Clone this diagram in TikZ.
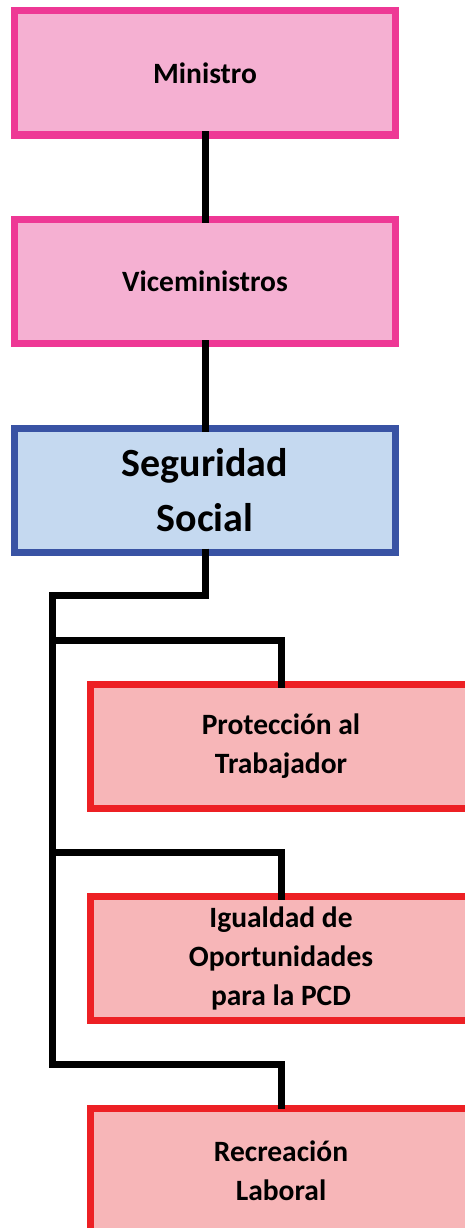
\documentclass[tikz,border=0pt]{standalone}
\usepackage{fontspec}
\setmainfont{Carlito}
\usetikzlibrary{positioning, calc}
\definecolor{orgpink}{RGB}{238,56,149}
\definecolor{orgpinkfill}{RGB}{245,176,210}
\definecolor{orgblue}{RGB}{57,83,164}
\definecolor{orgbluefill}{RGB}{197,217,240}
\definecolor{orgred}{RGB}{237,32,36}
\definecolor{orgredfill}{RGB}{247,182,184}

\tikzset{
    unitbox/.style={rectangle, line width=7pt, minimum width=381pt, minimum height=124pt,
        outer sep=0pt, inner sep=0pt, align=center, font=\bfseries\fontsize{29.5}{39}\selectfont},
    pinkbox/.style={unitbox, draw=orgpink, fill=orgpinkfill},
    bluebox/.style={unitbox, draw=orgblue, fill=orgbluefill, font=\bfseries\fontsize{40}{55}\selectfont},
    redbox/.style={unitbox, draw=orgred, fill=orgredfill},
    conn/.style={line width=7pt, black, shorten <=-3.5pt, shorten >=-3.5pt}
}

\begin{document}
\begin{tikzpicture}[x=1pt, y=-1pt]
    \useasboundingbox (0,0) rectangle (464,1228);

    % Upper chain
    \node[pinkbox] (min) at (205,73) {Ministro};
    \node[pinkbox, below=84.5pt of min] (vice) {Viceministros};
    \node[bluebox, below=84.5pt of vice] (seg) {Seguridad\\Social};

    % Dependencies
    \node[redbox] (prot) at (281,746) {Protección al\\Trabajador};
    \node[redbox] (igu) at (281,958) {Igualdad de\\Oportunidades\\para la PCD};
    \node[redbox] (rec) at (281,1170.5) {Recreación\\Laboral};

    \draw[conn] (min.south) -- (vice.north);
    \draw[conn] (vice.south) -- (seg.north);

    % Bus on the left
    \coordinate (bus) at (52.5,595);
    \coordinate (busend) at (52.5,1064.5);
    \draw[conn, shorten <=-3.5pt, shorten >=0pt] (seg.south) |- (bus) -- (busend) -| (rec.north);
    \draw[conn, shorten >=0pt] (prot.north) -- ++(0,-44) -| (bus);
    \draw[conn, shorten >=0pt] (igu.north) -- ++(0,-44) -| (bus);
\end{tikzpicture}
\end{document}
